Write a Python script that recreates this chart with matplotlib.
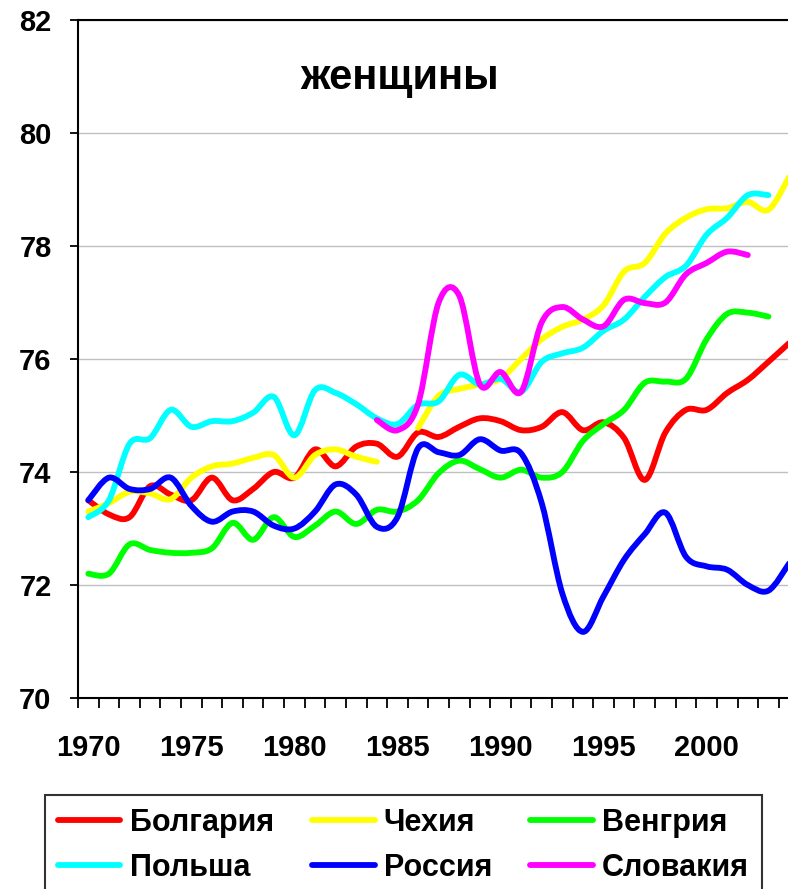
import numpy as np
import matplotlib.pyplot as plt
from matplotlib.path import Path
from matplotlib.patches import PathPatch
from matplotlib.lines import Line2D

plt.rcParams['font.family'] = ['Liberation Sans', 'DejaVu Sans']
plt.rcParams['font.weight'] = 'bold'

nan = np.nan
years = np.arange(1970, 2005)

# ожидаемая продолжительность жизни женщин, лет
bulgaria = [73.5, 73.25, 73.2, 73.75, 73.6, 73.5, 73.9, 73.5, 73.7, 74.0,
            73.9, 74.4, 74.1, 74.45, 74.5, 74.27, 74.7, 74.62, 74.8, 74.95,
            74.9, 74.74, 74.8, 75.06, 74.74, 74.88, 74.6, 73.86, 74.7, 75.1,
            75.1, 75.4, 75.63, 75.95, 76.28]
czech = [73.3, 73.45, 73.65, 73.62, 73.52, 73.9, 74.1, 74.15, 74.25, 74.3,
         73.9, 74.3, 74.4, 74.27, 74.18, nan, 74.78, 75.35, 75.47, 75.55,
         75.65, 76.0, 76.35, 76.57, 76.7, 76.95, 77.55, 77.7, 78.22, 78.5,
         78.65, 78.67, 78.78, 78.64, 79.22]
hungary = [72.2, 72.2, 72.72, 72.62, 72.57, 72.57, 72.65, 73.1, 72.8, 73.2,
           72.85, 73.05, 73.3, 73.08, 73.33, 73.3, 73.5, 73.98, 74.2, 74.05,
           73.9, 74.04, 73.9, 74.0, 74.55, 74.85, 75.1, 75.58, 75.6, 75.65,
           76.35, 76.8, 76.82, 76.75, nan]
poland = [73.2, 73.5, 74.5, 74.6, 75.1, 74.8, 74.9, 74.9, 75.05, 75.33,
          74.65, 75.45, 75.4, 75.2, 74.95, 74.85, 75.19, 75.25, 75.72, 75.55,
          75.65, 75.42, 75.95, 76.1, 76.2, 76.5, 76.7, 77.1, 77.45, 77.65,
          78.2, 78.5, 78.9, 78.9, nan]
russia = [73.5, 73.9, 73.7, 73.7, 73.9, 73.4, 73.12, 73.3, 73.3, 73.05,
          73.0, 73.3, 73.78, 73.6, 73.03, 73.2, 74.42, 74.35, 74.3, 74.58,
          74.38, 74.33, 73.45, 71.85, 71.17, 71.8, 72.45, 72.9, 73.28, 72.5,
          72.33, 72.27, 72.0, 71.9, 72.38]
slovakia = [nan] * 14 + [74.92, 74.74, 75.2, 77.0, 77.12, 75.55,
                         75.77, 75.42, 76.65, 76.92, 76.7, 76.58, 77.05, 76.99, 77.0, 77.5,
                         77.7, 77.9, 77.84, nan, nan]

names = ['Болгария', 'Чехия', 'Венгрия', 'Польша', 'Россия', 'Словакия']
series = [bulgaria, czech, hungary, poland, russia, slovakia]
colors = ['#ff0000', '#ffff00', '#00ff00', '#00ffff', '#0000ff', '#ff00ff']


def smooth_path(x, y):
    # сглаженная линия (кривые Безье через точки ряда), разрывы на пропусках
    y = np.asarray(y, dtype=float)
    verts, codes = [], []
    ok = ~np.isnan(y)
    i = 0
    while i < len(y):
        if not ok[i]:
            i += 1
            continue
        j = i
        while j < len(y) and ok[j]:
            j += 1
        pts = np.column_stack([x[i:j], y[i:j]])
        n = len(pts)
        if n > 1:
            verts.append(pts[0])
            codes.append(Path.MOVETO)
            for k in range(n - 1):
                p_prev = pts[k - 1] if k > 0 else pts[k]
                p_next = pts[k + 2] if k + 2 < n else pts[k + 1]
                c1 = pts[k] + (pts[k + 1] - p_prev) / 6
                c2 = pts[k + 1] - (p_next - pts[k]) / 6
                verts += [c1, c2, pts[k + 1]]
                codes += [Path.CURVE4] * 3
        i = j
    return Path(verts, codes)


fig = plt.figure(figsize=(7.88, 8.89), dpi=100)
ax = fig.add_axes([78 / 788, 1 - 698 / 889, 1 - 78 / 788, 678 / 889])

for vals, c in zip(series, colors):
    ax.add_patch(PathPatch(smooth_path(years, vals), facecolor='none', edgecolor=c,
                           lw=4.2, capstyle='round', joinstyle='round'))

ax.set_xlim(1969.5, 2003.95)
ax.set_ylim(70, 82)

ax.set_yticks(np.arange(70, 83, 2))
ax.tick_params(axis='y', direction='out', length=6, width=1.3, pad=13, labelsize=21)
ax.grid(axis='y', color='#c0c0c0', lw=1)
ax.set_axisbelow(True)

# деления по границам лет, подписи каждые 5 лет
ax.set_xticks(np.arange(1969.5, 2004, 1))
ax.set_xticklabels([])
ax.tick_params(axis='x', which='major', direction='out', length=7.5, width=1.3)
ax.set_xticks(np.arange(1970, 2001, 5), minor=True)
ax.set_xticklabels([str(v) for v in range(1970, 2001, 5)], minor=True)
ax.tick_params(axis='x', which='minor', length=0, pad=26, labelsize=21)

for s in ['left', 'bottom', 'top']:
    ax.spines[s].set_linewidth(1.5)
    ax.spines[s].set_color('black')
ax.spines['right'].set_visible(False)

ax.text(0.4535, 0.914, 'женщины', transform=ax.transAxes, ha='center', va='center',
        fontsize=30, fontweight='bold')

order = [0, 3, 1, 4, 2, 5]
handles = [Line2D([], [], color=colors[k], lw=4.2, solid_capstyle='round') for k in order]
labels = [names[k] for k in order]
leg = fig.legend(handles, labels, ncol=3, loc='upper left',
                 bbox_to_anchor=(45 / 788, 1 - 795 / 889), frameon=True, fancybox=False,
                 fontsize=22, handlelength=2.05, handletextpad=0.3, columnspacing=1.25,
                 labelspacing=0.5, borderpad=0.42, borderaxespad=0)
leg.get_frame().set_edgecolor('black')
leg.get_frame().set_linewidth(1.5)

fig.savefig('out.png', dpi=100)
